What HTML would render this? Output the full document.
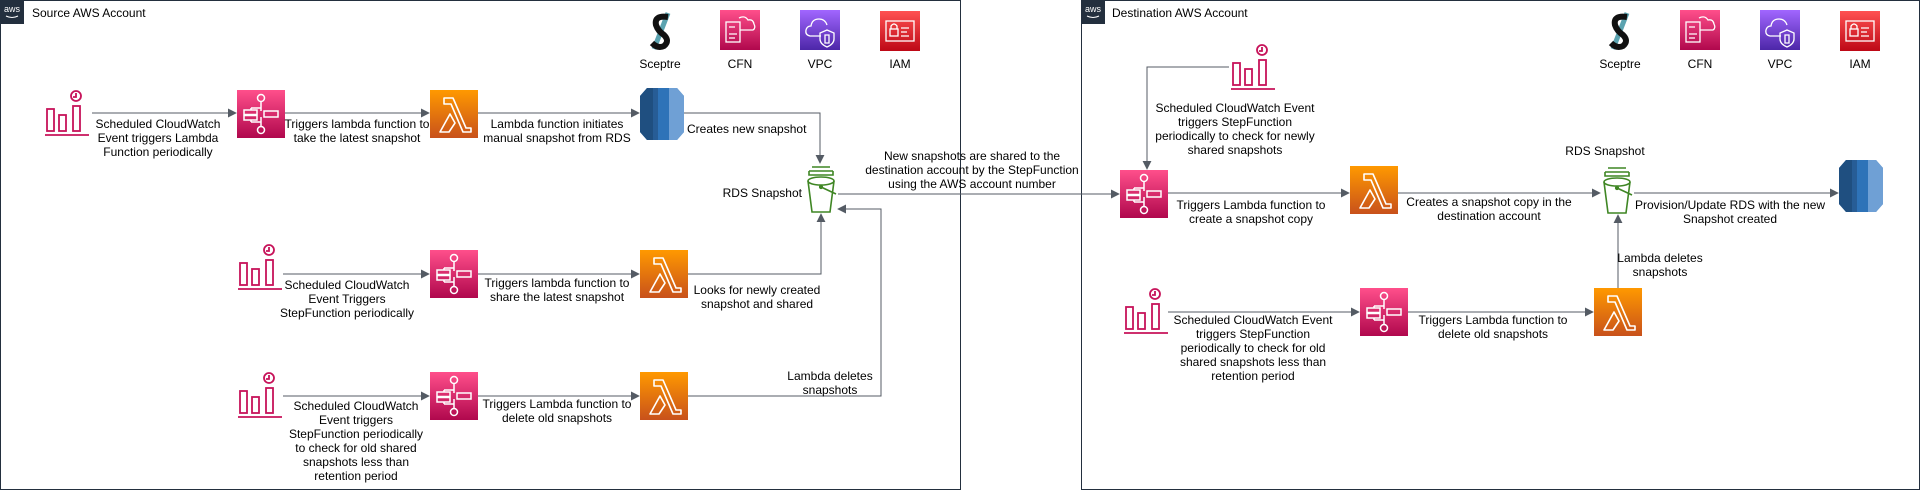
<!DOCTYPE html>
<html><head><meta charset="utf-8"><style>
html,body{margin:0;padding:0;background:#fff}
svg{display:block}
text{font-family:"Liberation Sans",Arial,sans-serif;font-size:12px;fill:#000}
.c{text-anchor:middle}
.ln{stroke:#545b64;stroke-width:1;fill:none}
</style></head><body>
<svg width="1921" height="491" viewBox="0 0 1921 491" xmlns="http://www.w3.org/2000/svg">
<defs>
<marker id="ar" viewBox="0 0 10 10" refX="9" refY="5" markerWidth="9" markerHeight="9" orient="auto" markerUnits="userSpaceOnUse"><path d="M0,0 L10,5 L0,10 z" fill="#545b64"/></marker>
<linearGradient id="gp" x1="0" y1="1" x2="0" y2="0"><stop offset="0" stop-color="#b0084d"/><stop offset="1" stop-color="#ff4f8b"/></linearGradient>
<linearGradient id="go" x1="0" y1="1" x2="0" y2="0"><stop offset="0" stop-color="#c8511b"/><stop offset="1" stop-color="#ff9900"/></linearGradient>
<linearGradient id="gv" x1="0" y1="1" x2="0" y2="0"><stop offset="0" stop-color="#4d27a8"/><stop offset="1" stop-color="#a166ff"/></linearGradient>
<linearGradient id="gr" x1="0" y1="1" x2="0" y2="0"><stop offset="0" stop-color="#bd0816"/><stop offset="1" stop-color="#ff5252"/></linearGradient>
<g id="sf"><rect width="48" height="48" fill="url(#gp)"/><g stroke="#fff" stroke-width="1.5" fill="none"><circle cx="24" cy="8" r="3.5"/><circle cx="24" cy="40" r="3.5"/><path d="M24 11.5V18M24 32V36.5M14 18H24M14 32H24M14 18V20M14 30V32"/><rect x="7" y="20" width="13" height="4.5"/><rect x="7" y="25.5" width="13" height="4.5"/><rect x="27" y="21" width="14" height="6"/><path d="M24 18V21M24 27V32"/></g></g>
<g id="lm"><rect width="48" height="48" fill="url(#go)"/><path d="M14 8H23L36 38H41V42H33L21 14H14Z M20 24L25 33L19 42H10Z" fill="none" stroke="#fff" stroke-width="1.6" stroke-linejoin="round"/></g>
<g id="cw" fill="none" stroke="#c7135a" stroke-width="1.8"><rect x="2" y="19" width="7" height="22"/><rect x="14" y="25" width="7" height="16"/><rect x="28" y="16" width="7" height="25"/><path d="M0 45H44"/><circle cx="31" cy="6" r="5"/><path d="M31 3V7H28"/></g>
<g id="bk" fill="none" stroke="#3f8624" stroke-width="1.6"><path d="M6 1H24M3 5H27M3 5V9H27V5"/><ellipse cx="15" cy="15" rx="13" ry="4"/><path d="M2 15L6 46H24L28 15"/><circle cx="15" cy="21" r="1.3" fill="#3f8624"/><path d="M15 21L30 28"/></g>
<g id="rds"><path d="M6 0H36L43 8V44L36 52H6L-1 44V8Z" fill="#2e73b8"/><path d="M6 0L-1 8V44L6 52H12V0Z" fill="#1f4f80"/><path d="M12 0H17V52H12Z" fill="#275d96"/><path d="M28 0H36L43 8V44L36 52H28Z" fill="#6fa0d5"/></g>
<g id="scp"><path d="M20 2L6 38" stroke="#5ba3b0" stroke-width="5"/><path d="M20 6Q6 4 8 14Q10 20 16 24Q22 30 16 35Q10 38 4 32" stroke="#111" stroke-width="6" fill="none"/></g>
<g id="cfn"><rect width="40" height="40" fill="url(#gp)"/><g stroke="#fff" stroke-width="1.3" fill="none"><rect x="6" y="12" width="14" height="20"/><path d="M9 17H15M9 24H17M9 28H15M20 20H33Q36 18 34 14Q33 9 28 10Q25 5 19 8"/></g></g>
<g id="vpc"><rect width="40" height="40" fill="url(#gv)"/><g stroke="#fff" stroke-width="1.3" fill="none"><path d="M21 26H10Q5 25 6 20Q7 16 11 16Q12 9 19 9Q25 9 27 15"/><path d="M27 20L34 23V29Q34 34 27 37Q20 34 20 29V23Z"/><path d="M25 25H29V33H25Z"/></g></g>
<g id="iam"><rect width="40" height="40" fill="url(#gr)"/><g stroke="#fff" stroke-width="1.3" fill="none"><rect x="6" y="10" width="28" height="20"/><rect x="10" y="18" width="8" height="7"/><path d="M11 18V15Q14 11 17 15V18M21 17H29M21 21H27M21 25H29"/></g></g>
<g id="awsl"><rect width="24" height="24" fill="#232f3e"/><text x="12" y="12" class="c" style="font-size:9px;fill:#fff">aws</text><path d="M6 16Q12 19 18 16" stroke="#fff" stroke-width="1" fill="none"/></g>
</defs>

<rect x="0.5" y="0.5" width="960" height="489" fill="none" stroke="#232f3e" stroke-width="1"/>
<rect x="1081.5" y="0.5" width="838" height="489" fill="none" stroke="#232f3e" stroke-width="1"/>
<use href="#awsl" x="0" y="0"/><text x="32" y="17">Source AWS Account</text>
<use href="#awsl" x="1081" y="0"/><text x="1112" y="17">Destination AWS Account</text>

<use href="#scp" x="648" y="11"/><text x="660" y="68" class="c">Sceptre</text>
<use href="#cfn" x="720" y="10"/><text x="740" y="68" class="c">CFN</text>
<use href="#vpc" x="800" y="10"/><text x="820" y="68" class="c">VPC</text>
<use href="#iam" x="880" y="11"/><text x="900" y="68" class="c">IAM</text>
<use href="#scp" x="1607" y="11"/><text x="1620" y="68" class="c">Sceptre</text>
<use href="#cfn" x="1680" y="10"/><text x="1700" y="68" class="c">CFN</text>
<use href="#vpc" x="1760" y="10"/><text x="1780" y="68" class="c">VPC</text>
<use href="#iam" x="1840" y="11"/><text x="1860" y="68" class="c">IAM</text>

<use href="#cw" x="45" y="90"/>
<use href="#sf" x="237" y="90"/>
<use href="#lm" x="430" y="90"/>
<use href="#rds" x="641" y="88"/>
<path class="ln" d="M92 113H236" marker-end="url(#ar)"/>
<path class="ln" d="M285 113H429" marker-end="url(#ar)"/>
<path class="ln" d="M478 113H639" marker-end="url(#ar)"/>
<path class="ln" d="M684 113H820V163" marker-end="url(#ar)"/>
<text class="c" x="158" y="128">Scheduled CloudWatch</text>
<text class="c" x="158" y="142">Event triggers Lambda</text>
<text class="c" x="158" y="156">Function periodically</text>
<text class="c" x="357" y="128">Triggers lambda function to</text>
<text class="c" x="357" y="142">take the latest snapshot</text>
<text class="c" x="557" y="128">Lambda function initiates</text>
<text class="c" x="557" y="142">manual snapshot from RDS</text>
<text x="687" y="133">Creates new snapshot</text>

<use href="#bk" x="806" y="166"/>
<text x="802" y="197" style="text-anchor:end">RDS Snapshot</text>

<use href="#cw" x="238" y="244"/>
<use href="#sf" x="430" y="250"/>
<use href="#lm" x="640" y="250"/>
<path class="ln" d="M283 274H429" marker-end="url(#ar)"/>
<path class="ln" d="M478 274H639" marker-end="url(#ar)"/>
<path class="ln" d="M688 274H821V214" marker-end="url(#ar)"/>
<text class="c" x="347" y="289">Scheduled CloudWatch</text>
<text class="c" x="347" y="303">Event Triggers</text>
<text class="c" x="347" y="317">StepFunction periodically</text>
<text class="c" x="557" y="287">Triggers lambda function to</text>
<text class="c" x="557" y="301">share the latest snapshot</text>
<text class="c" x="757" y="294">Looks for newly created</text>
<text class="c" x="757" y="308">snapshot and shared</text>

<use href="#cw" x="238" y="372"/>
<use href="#sf" x="430" y="372"/>
<use href="#lm" x="640" y="372"/>
<path class="ln" d="M283 396H429" marker-end="url(#ar)"/>
<path class="ln" d="M478 396H639" marker-end="url(#ar)"/>
<path class="ln" d="M688 396H881V209H838" marker-end="url(#ar)"/>
<text class="c" x="830" y="380">Lambda deletes</text>
<text class="c" x="830" y="394">snapshots</text>
<text class="c" x="356" y="410">Scheduled CloudWatch</text>
<text class="c" x="356" y="424">Event triggers</text>
<text class="c" x="356" y="438">StepFunction periodically</text>
<text class="c" x="356" y="452">to check for old shared</text>
<text class="c" x="356" y="466">snapshots less than</text>
<text class="c" x="356" y="480">retention period</text>
<text class="c" x="557" y="408">Triggers Lambda function to</text>
<text class="c" x="557" y="422">delete old snapshots</text>

<path class="ln" d="M838 194H1119" marker-end="url(#ar)"/>
<text class="c" x="972" y="160">New snapshots are shared to the</text>
<text class="c" x="972" y="174">destination account by the StepFunction</text>
<text class="c" x="972" y="188">using the AWS account number</text>

<use href="#cw" x="1231" y="44"/>
<path class="ln" d="M1229 67H1147V169" marker-end="url(#ar)"/>
<text class="c" x="1235" y="112">Scheduled CloudWatch Event</text>
<text class="c" x="1235" y="126">triggers StepFunction</text>
<text class="c" x="1235" y="140">periodically to check for newly</text>
<text class="c" x="1235" y="154">shared snapshots</text>
<use href="#sf" x="1120" y="170"/>
<use href="#lm" x="1350" y="166"/>
<use href="#bk" x="1602" y="167"/>
<use href="#rds" x="1840" y="160"/>
<path class="ln" d="M1168 193H1349" marker-end="url(#ar)"/>
<path class="ln" d="M1398 193H1600" marker-end="url(#ar)"/>
<path class="ln" d="M1634 193H1838" marker-end="url(#ar)"/>
<text class="c" x="1251" y="209">Triggers Lambda function to</text>
<text class="c" x="1251" y="223">create a snapshot copy</text>
<text class="c" x="1489" y="206">Creates a snapshot copy in the</text>
<text class="c" x="1489" y="220">destination account</text>
<text class="c" x="1605" y="155">RDS Snapshot</text>
<text class="c" x="1730" y="209">Provision/Update RDS with the new</text>
<text class="c" x="1730" y="223">Snapshot created</text>

<use href="#cw" x="1124" y="288"/>
<use href="#sf" x="1360" y="288"/>
<use href="#lm" x="1594" y="288"/>
<path class="ln" d="M1168 312H1359" marker-end="url(#ar)"/>
<path class="ln" d="M1408 312H1593" marker-end="url(#ar)"/>
<path class="ln" d="M1618 288V215" marker-end="url(#ar)"/>
<text class="c" x="1660" y="262">Lambda deletes</text>
<text class="c" x="1660" y="276">snapshots</text>
<text class="c" x="1253" y="324">Scheduled CloudWatch Event</text>
<text class="c" x="1253" y="338">triggers StepFunction</text>
<text class="c" x="1253" y="352">periodically to check for old</text>
<text class="c" x="1253" y="366">shared snapshots less than</text>
<text class="c" x="1253" y="380">retention period</text>
<text class="c" x="1493" y="324">Triggers Lambda function to</text>
<text class="c" x="1493" y="338">delete old snapshots</text>
</svg>
</body></html>
